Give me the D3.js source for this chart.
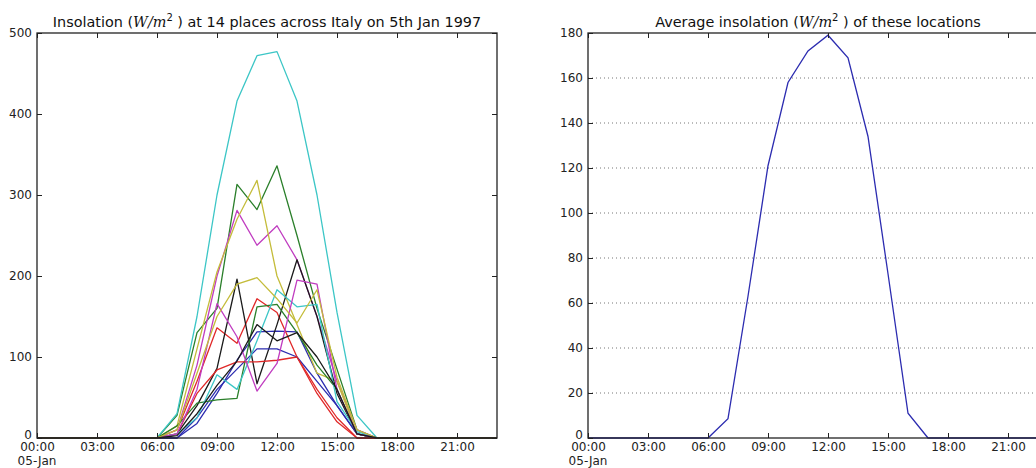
<!DOCTYPE html>
<html><head><meta charset="utf-8">
<script src="https://cdn.jsdelivr.net/npm/d3@7"></script>
<style>
body{margin:0;background:#fff;}
svg{display:block;font-family:"DejaVu Sans",sans-serif;}
</style></head>
<body><svg id="c" width="1036" height="468"></svg>
<script>
// hours of day 0..23 on 5 Jan 1997
const hours = d3.range(0, 24);
const xTickLabels = ["00:00","03:00","06:00","09:00","12:00","15:00","18:00","21:00"];
const leftYTicks = [0,100,200,300,400,500];
const rightYTicks = [0,20,40,60,80,100,120,140,160,180];
const seriesColors = ["#2c2cb0","#2a7f2a","#e02828","#3cc6c6","#c03cc0","#c4bc3a","#1a1a1a",
                      "#2c2cb0","#2a7f2a","#e02828","#3cc6c6","#c03cc0","#c4bc3a","#1a1a1a"];
// values from 06:00 to 17:00; other hours are zero
const blueA    = [0,0,18,55,96,131,132,131,80,40,5,0];
const greenA   = [0,28,130,160,313,282,336,250,160,85,10,0];
const redA     = [0,10,70,136,117,172,155,100,55,20,0,0];
const cyanA    = [0,30,150,300,416,472,477,416,300,155,28,0];
const magentaA = [0,10,90,200,281,238,262,220,150,70,10,0];
const yellowA  = [0,15,110,205,270,318,200,140,80,70,5,0];
const blackA   = [0,5,40,86,196,67,140,220,150,55,5,0];
const blueB    = [0,0,25,60,85,110,110,100,70,40,5,0];
const greenB   = [0,15,43,47,49,162,165,130,90,60,5,0];
const redB     = [0,5,55,84,94,94,96,100,60,25,0,0];
const cyanB    = [0,5,25,78,60,120,183,162,165,45,8,0];
const magentaB = [0,5,60,166,125,58,92,195,190,60,5,0];
const yellowB  = [0,10,80,150,190,198,172,142,183,75,10,0];
const blackB   = [0,3,30,65,95,140,120,130,100,60,5,0];
const average  = [0,8.6,63,121,158,172,179,169,134,73,11,0];

const seriesList = [blueA,greenA,redA,cyanA,magentaA,yellowA,blackA,blueB,greenB,redB,cyanB,magentaB,yellowB,blackB];
function full(v){ return hours.map(h => (h>=6 && h<=17) ? v[h-6] : 0); }
const day = h => new Date(1997,0,5,h);

const svg = d3.select("#c");
const H0 = 33, H1 = 438;

function panel(x0, yMax, yTicks, grid, title){
  const x = d3.scaleTime().domain([day(0), day(23)]).range([x0, x0+460]);
  const y = d3.scaleLinear().domain([0, yMax]).range([H1, H0]);
  const g = svg.append("g");
  const tickDates = xTickLabels.map((t,i)=>day(i*3));
  if(grid){
    g.append("g").selectAll("line").data(yTicks.filter(v=>v>0&&v<yMax)).join("line")
      .attr("x1", x0).attr("x2", x0+460).attr("y1", d=>y(d)).attr("y2", d=>y(d))
      .attr("stroke","#777").attr("stroke-width",1).attr("stroke-dasharray","1,3");
  }
  return {x,y,g,tickDates,x0,title,yTicks};
}

function frame(p){
  const {x,y,g,tickDates,x0,title,yTicks} = p;
  const fmt = d3.timeFormat("%H:%M");
  const ax = g.append("g").attr("transform",`translate(0,${H1})`)
    .call(d3.axisBottom(x).tickValues(tickDates).tickFormat(fmt).tickSizeInner(-5).tickSizeOuter(0).tickPadding(13));
  const axTop = g.append("g").attr("transform",`translate(0,${H0})`)
    .call(d3.axisTop(x).tickValues(tickDates).tickFormat("").tickSizeInner(-5).tickSizeOuter(0));
  const ay = g.append("g").attr("transform",`translate(${x0},0)`)
    .call(d3.axisLeft(y).tickValues(yTicks).tickSizeInner(-5).tickSizeOuter(0).tickPadding(5));
  const ayR = g.append("g").attr("transform",`translate(${x0+460},0)`)
    .call(d3.axisRight(y).tickValues(yTicks).tickFormat("").tickSizeInner(-5).tickSizeOuter(0));
  [ax,axTop,ay,ayR].forEach(a=>{ a.select(".domain").remove(); a.selectAll("line").attr("stroke","#222");
    a.selectAll("text").attr("font-size",12).attr("fill","#222").attr("font-family","DejaVu Sans"); });
  ax.selectAll("text").attr("dy","0");
  ay.selectAll("text").attr("dy","0.3em");
  ay.selectAll(".tick").filter(d=>d===0).select("text").attr("dy","0");
  // "05-Jan" under first tick
  ax.append("text").attr("x", x(day(0))).attr("y", 27).attr("text-anchor","middle")
    .attr("font-size",12).attr("fill","#222").attr("font-family","DejaVu Sans").text("05-Jan");
  g.append("rect").attr("x",x0).attr("y",H0).attr("width",460).attr("height",H1-H0)
    .attr("fill","none").attr("stroke","#222").attr("stroke-width",1.3);
  // title
  const t = g.append("text").attr("x", x0+230).attr("y", 27).attr("text-anchor","middle")
    .attr("font-size",14.4).attr("fill","#111");
  t.append("tspan").text(title[0]+"(");
  t.append("tspan").attr("font-family","DejaVu Serif").attr("font-style","italic").text("W/m");
  t.append("tspan").attr("font-size",10).attr("dy",-6).text("2");
  t.append("tspan").attr("dy",6).text(" )"+title[1]);
}

const L = panel(37, 500, leftYTicks, false, ["Insolation ", " at 14 places across Italy on 5th Jan 1997"]);
const line = d3.line().x((d,i)=>L.x(day(hours[i]))).y(d=>L.y(d));
L.g.append("g").selectAll("path").data(seriesList).join("path")
  .attr("d", d=>line(full(d))).attr("fill","none")
  .attr("stroke",(d,i)=>seriesColors[i]).attr("stroke-width",1.3).attr("stroke-linejoin","round");
frame(L);

const R = panel(588, 180, rightYTicks, true, ["Average insolation ", " of these locations"]);
const lineR = d3.line().x((d,i)=>R.x(day(hours[i]))).y(d=>R.y(d));
R.g.append("path").attr("d", lineR(full(average))).attr("fill","none")
  .attr("stroke","#2c2cb0").attr("stroke-width",1.3);
frame(R);
</script></body></html>
